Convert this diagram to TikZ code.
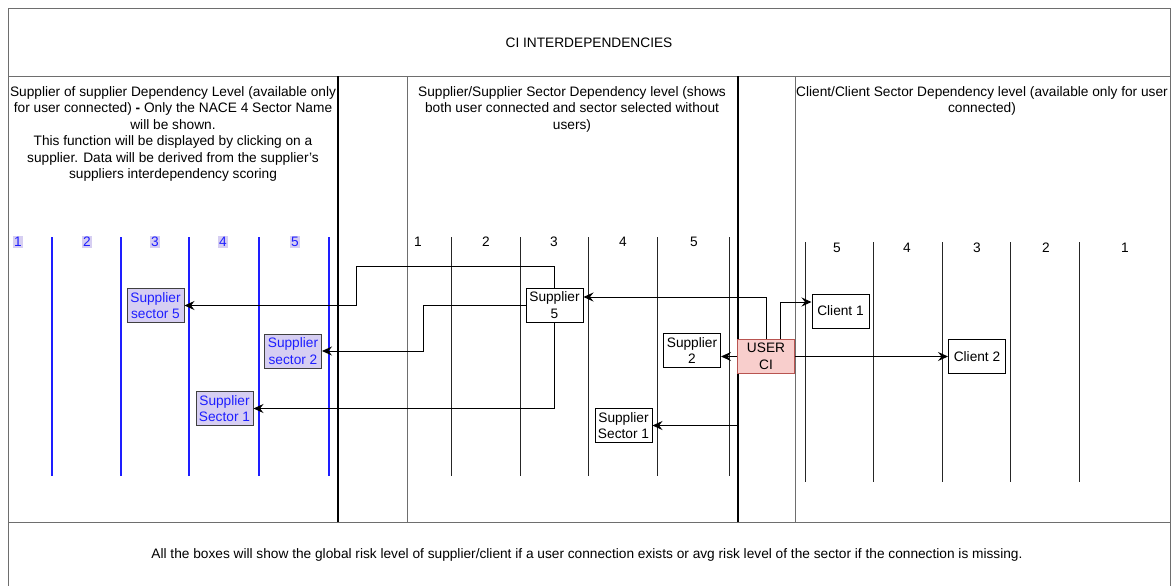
\documentclass[tikz,border=0pt]{standalone}
\usepackage{fontspec}
\setmainfont{Liberation Sans}
\usepackage{xcolor}
\usetikzlibrary{arrows.meta,positioning}
\definecolor{ci_pink}{RGB}{248,206,204}
\definecolor{ci_red}{RGB}{184,84,80}
\definecolor{ci_lilac}{RGB}{214,206,242}
\definecolor{ci_blue}{RGB}{30,30,255}
\definecolor{ci_frame}{RGB}{110,110,110}

\tikzset{
  box/.style={draw=black, line width=1pt, fill=white, minimum width=57pt,
    minimum height=34pt, inner sep=0pt, align=center,
    font=\fontsize{13.7}{16.5}\selectfont},
  sectorbox/.style={box, fill=ci_lilac, draw=black!75, text=ci_blue},
  userbox/.style={box, fill=ci_pink, draw=ci_red},
  link/.style={line width=1pt, -{Stealth[length=10pt,width=9pt,inset=3.5pt]}},
  level/.style={font=\fontsize{13.7}{16}\selectfont, inner sep=1.5pt},
  bluelevel/.style={level, text=ci_blue, fill=ci_lilac},
  header/.style={anchor=north, align=center, font=\fontsize{13.7}{16.5}\selectfont},
}

\begin{document}
\begin{tikzpicture}[x=1pt, y=-1pt]
        \clip (0,0) rectangle (1172,586);
        \fill[white] (0,0) rectangle (1172,586);
        % Frame and sections
        \draw[ci_frame, line width=1pt] (8,9) rectangle (1170,600);
        \draw[ci_frame, line width=1pt] (8,76) -- (1170,76);
        \draw[ci_frame, line width=1pt] (8,522) -- (1170,522);
        \draw[black, line width=1.3pt] (338,76) -- (338,522);
        \draw[ci_frame, line width=1pt] (407,76) -- (407,522);
        \draw[black, line width=1.3pt] (738,76) -- (738,522);
        \draw[ci_frame, line width=1pt] (795,76) -- (795,522);
        % Texts
        \node[font=\fontsize{13.7}{16}\selectfont] (title) at (589,43) {CI INTERDEPENDENCIES};
        \node[header] (hleft) at (173,83)
          {Supplier of supplier Dependency Level (available only\\
           for user connected) \textbf{-} Only the NACE 4 Sector Name\\
           will be shown.\\
           This function will be displayed by clicking on a\\
           supplier. Data will be derived from the supplier's\\
           suppliers interdependency scoring};
        \node[header] (hmid) at (572,83)
          {Supplier/Supplier Sector Dependency level (shows\\
           both user connected and sector selected without\\
           users)};
        \node[header] (hright) at (982,83)
          {Client/Client Sector Dependency level (available only for user\\
           connected)};
        \node[font=\fontsize{13.7}{16}\selectfont] (note) at (587,555)
          {All the boxes will show the global risk level of supplier/client if a user connection exists or avg risk level of the sector if the connection is missing.};
        % Levels
        \draw[ci_blue, line width=1.2pt] foreach \x in {52,121,189,259,329} {(\x,237) -- (\x,476)};
        \foreach \x/\n in {18/1,87/2,155/3,223/4,295/5}
          \node[bluelevel] (ssl\n) at (\x,242) {\n};
        \draw[black!85, line width=1pt] foreach \x in {451,520,588,657,729} {(\x,237) -- (\x,476)};
        \foreach \x/\n in {418/1,486/2,554/3,623/4,694/5}
          \node[level] (sl\n) at (\x,242) {\n};
        \draw[black!85, line width=1pt] foreach \x in {805,873,942,1010,1079} {(\x,242) -- (\x,482)};
        \foreach \x/\n in {837/5,907/4,977/3,1046/2,1125/1}
          \node[level] (cl\n) at (\x,248) {\n};
        % Boxes
        \node[sectorbox] (sec5) at (155.5,305.5) {Supplier\\sector 5};
        \node[sectorbox] (sec2) at (293,351) {Supplier\\sector 2};
        \node[sectorbox] (sec1) at (224.5,408.5) {Supplier\\Sector 1};
        \node[box] (sup5) at (554.5,305) {Supplier\\5};
        \node[box] (sup2) at (692,350.5) {Supplier\\2};
        \node[box] (supsec1) at (623.5,425.5) {Supplier\\Sector 1};
        \node[userbox] (user) at (766,356.5) {USER\\CI};
        \node[box] (cli1) at (840.5,311) {Client 1};
        \node[box] (cli2) at (977,356.5) {Client 2};
        % Links
        \draw[link] (sup5.north) |- (356,266) |- (sec5.east);
        \draw[link] (sup5.west) -- ++(-102,0) |- (sec2.east);
        \draw[link] (sup5.south) |- (sec1.east);
        \draw[link] (user.north) |- ([yshift=8pt]sup5.east);
        \draw[link] ([xshift=14pt]user.north) |- ([yshift=9pt]cli1.west);
        \draw[link] (user.west) -- (user.west -| sup2.east);
        \draw[link] (user.east) -- (cli2.west);
        \draw[link] (user.south west) |- (supsec1.east);
      \end{tikzpicture}
\end{document}
